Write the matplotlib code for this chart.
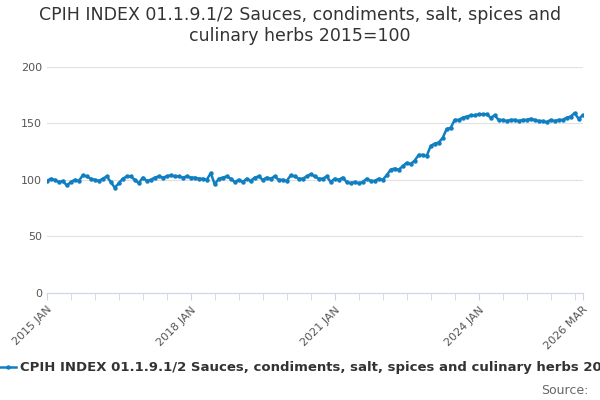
import matplotlib
matplotlib.use("Agg")
import matplotlib.pyplot as plt
import numpy as np

title = "CPIH INDEX 01.1.9.1/2 Sauces, condiments, salt, spices and\nculinary herbs 2015=100"
series_name = "CPIH INDEX 01.1.9.1/2 Sauces, condiments, salt, spices and culinary herbs 2015=100"
values = [
 99,101,100,98,99,95,98,100,99,104,103,101,
 100,99,101,103,98,93,97,101,103,103,100,97,
 102,99,100,102,103,102,103,104,103,103,102,103,
 102,102,101,101,100,106,96,101,102,103,101,98,
 100,98,101,99,102,103,100,102,101,103,100,100,
 99,104,103,101,101,103,105,103,101,101,103,98,
 101,100,102,98,97,98,97,98,101,99,99,101,
 100,104,109,110,109,112,115,114,117,122,122,121,
 130,132,133,137,145,146,153,153,155,156,157,157,
 158,158,158,155,157,153,153,152,153,153,152,153,
 153,154,153,152,152,151,153,152,153,153,155,156,
 159,154,157]
tick_pos = [0, 36, 72, 108, 134]
tick_labels = ["2015 JAN", "2018 JAN", "2021 JAN", "2024 JAN", "2026 MAR"]

fig = plt.figure(figsize=(6, 4), dpi=100)
ax = fig.add_axes([0.078, 0.268, 0.893, 0.565])
x = np.arange(len(values))
ax.plot(x, values, color="#0f7fc2", lw=1.8, marker="o", ms=2.2, label=series_name)
ax.set_xlim(0, 134)
ax.set_ylim(0, 200)
ax.set_yticks([0, 50, 100, 150, 200])
ax.grid(axis="y", color="#e0e0e0", lw=0.8)
ax.set_axisbelow(True)
for s in ["top", "right", "left"]:
    ax.spines[s].set_visible(False)
ax.spines["bottom"].set_color("#ccd6eb")
ax.set_xticks(tick_pos)
ax.set_xticklabels(tick_labels, rotation=45, ha="right", rotation_mode="anchor")
ax.set_xticks(np.arange(0, 135, 6), minor=True)
ax.tick_params(axis="x", which="both", color="#ccd6eb", length=5, labelsize=8, labelcolor="#555555")
ax.tick_params(axis="y", length=0, labelsize=8, labelcolor="#555555")
fig.suptitle(title, fontsize=12.5, color="#333333", y=0.985)
fig.legend(loc="lower left", bbox_to_anchor=(-0.02, 0.035), frameon=False,
           prop={"size": 9.5, "weight": "bold"}, handlelength=1.2, handletextpad=0.3,
           labelcolor="#333333")
fig.text(0.98, 0.015, "Source:", ha="right", fontsize=9, color="#666666")
fig.savefig("out.png")
